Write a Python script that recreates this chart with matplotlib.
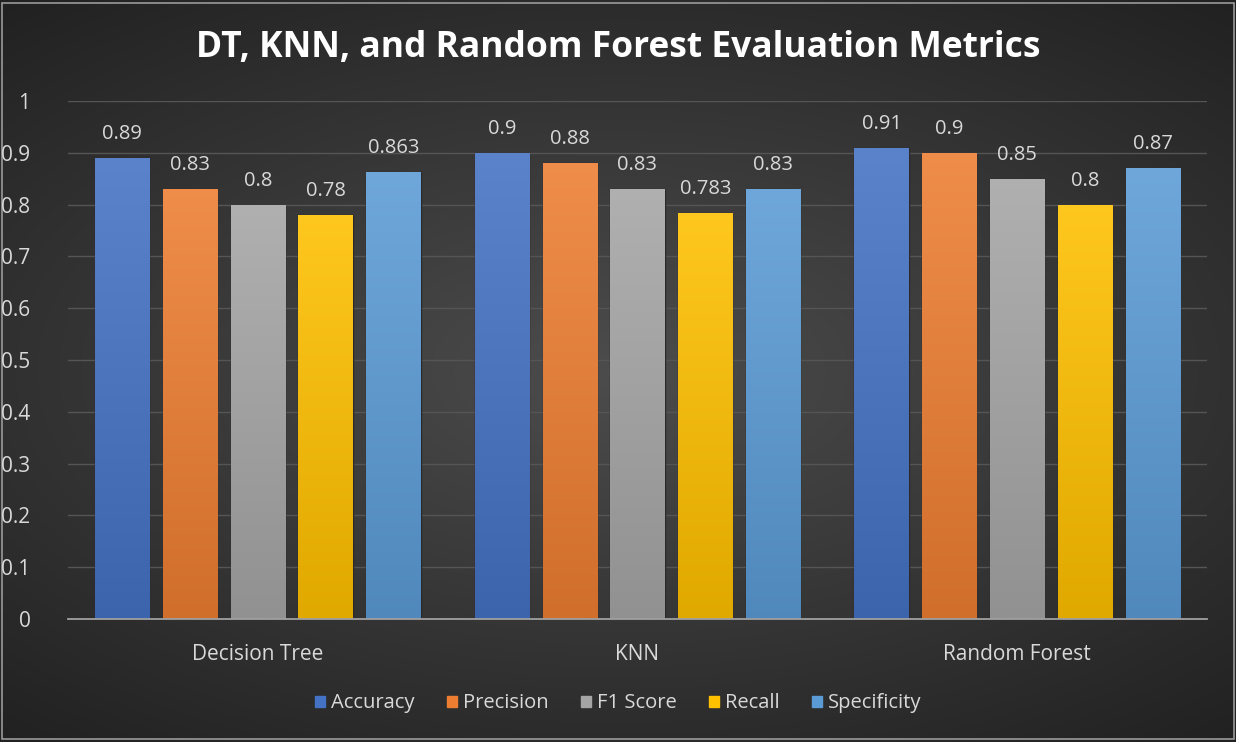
import numpy as np
import matplotlib
matplotlib.use("Agg")
import matplotlib.pyplot as plt
from matplotlib.colors import to_rgb
from matplotlib.patches import Rectangle

# Data
models = ["Decision Tree", "KNN", "Random Forest"]
metrics = ["Accuracy", "Precision", "F1 Score", "Recall", "Specificity"]
accuracy = [0.89, 0.9, 0.91]
precision = [0.83, 0.88, 0.9]
f1_score = [0.8, 0.83, 0.85]
recall = [0.78, 0.783, 0.8]
specificity = [0.863, 0.83, 0.87]
value_labels = [
    ["0.89", "0.9", "0.91"],
    ["0.83", "0.88", "0.9"],
    ["0.8", "0.83", "0.85"],
    ["0.78", "0.783", "0.8"],
    ["0.863", "0.83", "0.87"],
]
y_ticks = [0, 0.1, 0.2, 0.3, 0.4, 0.5, 0.6, 0.7, 0.8, 0.9, 1]
y_tick_labels = ["0", "0.1", "0.2", "0.3", "0.4", "0.5", "0.6", "0.7", "0.8", "0.9", "1"]

series = [accuracy, precision, f1_score, recall, specificity]
colors = ["#4472C4", "#ED7D31", "#A5A5A5", "#FFC000", "#5B9BD5"]

plt.rcParams["font.family"] = ["Open Sans", "DejaVu Sans"]
text_color = "#d9d9d9"

fig = plt.figure(figsize=(12.36, 7.42), dpi=100)

# Radial dark background
bg = fig.add_axes([0, 0, 1, 1], zorder=-10)
yy, xx = np.mgrid[-1:1:400j, -1:1:600j]
r = np.sqrt((xx * 0.85) ** 2 + (yy * 1.0) ** 2)
shade = np.clip(0.30 - 0.13 * r, 0.13, 0.30)
bg.imshow(np.dstack([shade, shade, shade]), aspect="auto", extent=[0, 1, 0, 1],
          interpolation="bilinear")
bg.add_patch(Rectangle((0.002, 0.004), 0.996, 0.992, fill=False,
                       edgecolor="#9a9a9a", linewidth=1.2, transform=bg.transAxes))
bg.set_xlim(0, 1)
bg.set_ylim(0, 1)
bg.axis("off")

ax = fig.add_axes([0.055, 0.1658, 0.9215, 0.698])
ax.set_facecolor("none")

n = len(series)
pitch = 0.1786
width = 0.143
x = np.arange(len(models))

for i, (vals, col, labs) in enumerate(zip(series, colors, value_labels)):
    offs = x + (i - (n - 1) / 2) * pitch
    bars = ax.bar(offs, vals, width=width, color=col, edgecolor="#2a2a2a",
                  linewidth=1.0, zorder=3, label=metrics[i])
    base = np.array(to_rgb(col))
    light = np.clip(base + (1 - base) * 0.12, 0, 1)
    dark = base * 0.88
    grad = np.linspace(0, 1, 256)[:, None, None]
    img = dark[None, None, :] * (1 - grad) + light[None, None, :] * grad
    for b, lab in zip(bars, labs):
        x0, h = b.get_x(), b.get_height()
        im = ax.imshow(img, extent=[x0, x0 + width, 0, h], origin="lower",
                       aspect="auto", zorder=3.5, interpolation="bilinear")
        im.set_clip_path(b)
        ax.text(x0 + width / 2, h + 0.027, lab, ha="center", va="bottom",
                color=text_color, fontsize=14.5, zorder=5)

ax.set_xlim(-0.5, 2.5)
ax.set_ylim(0, 1)
ax.set_yticks(y_ticks)
ax.set_yticklabels(y_tick_labels)
ax.set_xticks(x)
ax.set_xticklabels(models)
ax.tick_params(axis="both", length=0, colors=text_color, labelsize=15)
ax.tick_params(axis="y", pad=27)
ax.tick_params(axis="x", pad=18)
ax.grid(axis="y", color="#555555", linewidth=1.0, zorder=0)
for s in ["top", "right", "left"]:
    ax.spines[s].set_visible(False)
ax.spines["bottom"].set_color("#a0a0a0")
ax.spines["bottom"].set_linewidth(1.3)
ax.spines["bottom"].set_zorder(4)

fig.text(0.5, 0.935, "DT, KNN, and Random Forest Evaluation Metrics", ha="center",
         va="center", color="white", fontsize=25.5, fontweight="bold")

handles = [Rectangle((0, 0), 1, 1, color=c) for c in colors]
leg = fig.legend(handles, metrics, loc="center", bbox_to_anchor=(0.5, 0.052),
                 ncol=5, frameon=False, fontsize=14.5, handlelength=0.5,
                 handleheight=0.5, handletextpad=0.3, columnspacing=1.6)
for t in leg.get_texts():
    t.set_color(text_color)

fig.savefig("out.png", dpi=100)
